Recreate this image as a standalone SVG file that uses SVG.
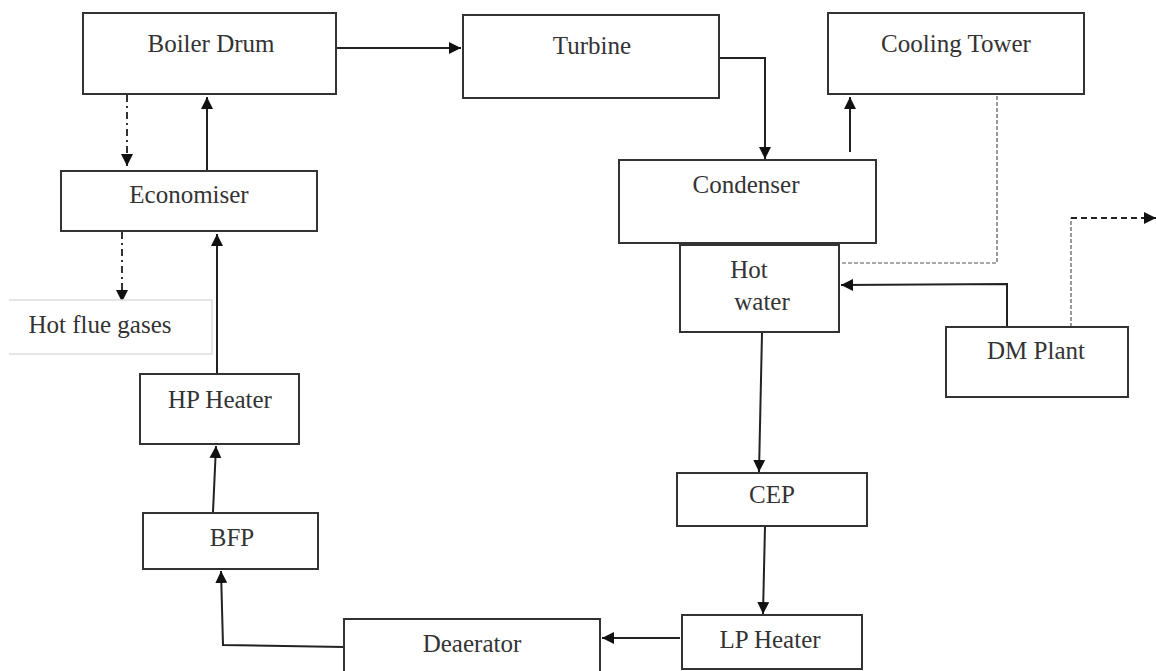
<svg xmlns="http://www.w3.org/2000/svg" width="1156" height="671" viewBox="0 0 1156 671">
<style>
.box{fill:#fff;stroke:#333;stroke-width:2}
.lbl{font-family:"Liberation Serif","DejaVu Serif",serif;font-size:25px;fill:#333;text-anchor:middle}
.c{fill:none;stroke:#222;stroke-width:2}
.dd{fill:none;stroke:#333;stroke-width:2;stroke-dasharray:7 4 2 4}
.dot{fill:none;stroke:#555;stroke-width:1.2;stroke-dasharray:4 2}
.dash{fill:none;stroke:#222;stroke-width:2;stroke-dasharray:6 4}
</style>
<defs>
<marker id="ah" viewBox="0 0 12 12" refX="12" refY="6" markerWidth="12" markerHeight="12" markerUnits="userSpaceOnUse" orient="auto">
<path d="M0,0 L12,6 L0,12 z" fill="#111"/>
</marker>
</defs>
<rect width="1156" height="671" fill="#fff"/>
<g id="connectors">
<line class="c" x1="336" y1="48" x2="461" y2="48" marker-end="url(#ah)"/>
<polyline class="c" points="719,58 765,58 765,159" marker-end="url(#ah)"/>
<line class="c" x1="850" y1="152" x2="850" y2="97" marker-end="url(#ah)"/>
<line class="dd" x1="127" y1="95" x2="127" y2="166" marker-end="url(#ah)"/>
<line class="c" x1="207" y1="171" x2="207" y2="97" marker-end="url(#ah)"/>
<line class="dd" x1="122" y1="232" x2="122" y2="302" marker-end="url(#ah)"/>
<line class="c" x1="217" y1="374" x2="217" y2="234" marker-end="url(#ah)"/>
<line class="c" x1="213" y1="512" x2="216" y2="446" marker-end="url(#ah)"/>
<polyline class="c" points="344,647 223,645 221,571" marker-end="url(#ah)"/>
<line class="c" x1="680" y1="638" x2="602" y2="638" marker-end="url(#ah)"/>
<line class="c" x1="765" y1="526" x2="763" y2="614" marker-end="url(#ah)"/>
<line class="c" x1="762" y1="333" x2="759" y2="472" marker-end="url(#ah)"/>
<polyline class="c" points="1007,327 1007,284 841,285" marker-end="url(#ah)"/>
<polyline class="dot" points="997,96 997,263 840,263"/>
<polyline class="dot" points="1071,327 1071,218"/>
<line class="dash" x1="1071" y1="218" x2="1156" y2="218" marker-end="url(#ah)"/>
</g>
<g id="boiler-drum"><rect class="box" x="83" y="13" width="253" height="81"/><text class="lbl" x="211" y="52">Boiler Drum</text></g>
<g id="turbine"><rect class="box" x="463" y="15" width="256" height="83"/><text class="lbl" x="592" y="54">Turbine</text></g>
<g id="cooling-tower"><rect class="box" x="828" y="13" width="256" height="81"/><text class="lbl" x="956" y="52">Cooling Tower</text></g>
<g id="economiser"><rect class="box" x="61" y="171" width="256" height="60"/><text class="lbl" x="189" y="203">Economiser</text></g>
<g id="condenser"><rect class="box" x="619" y="160" width="257" height="83"/><text class="lbl" x="746" y="193">Condenser</text></g>
<g id="hot-water"><rect class="box" x="680" y="245" width="159" height="87"/><text class="lbl" x="749" y="278">Hot</text><text class="lbl" x="762" y="310">water</text></g>
<g id="hot-flue-gases"><path d="M9,300 H212 V354 H9" fill="#fff" stroke="#ddd" stroke-width="1.5"/><text class="lbl" x="100" y="333">Hot flue gases</text></g>
<g id="dm-plant"><rect class="box" x="946" y="327" width="182" height="70"/><text class="lbl" x="1036" y="359">DM Plant</text></g>
<g id="hp-heater"><rect class="box" x="140" y="374" width="159" height="70"/><text class="lbl" x="220" y="408">HP Heater</text></g>
<g id="cep"><rect class="box" x="677" y="473" width="190" height="53"/><text class="lbl" x="772" y="503">CEP</text></g>
<g id="bfp"><rect class="box" x="143" y="513" width="175" height="56"/><text class="lbl" x="232" y="546">BFP</text></g>
<g id="lp-heater"><rect class="box" x="682" y="615" width="180" height="54"/><text class="lbl" x="770" y="648">LP Heater</text></g>
<g id="deaerator"><rect class="box" x="344" y="619" width="256" height="60"/><text class="lbl" x="472" y="652">Deaerator</text></g>
</svg>
